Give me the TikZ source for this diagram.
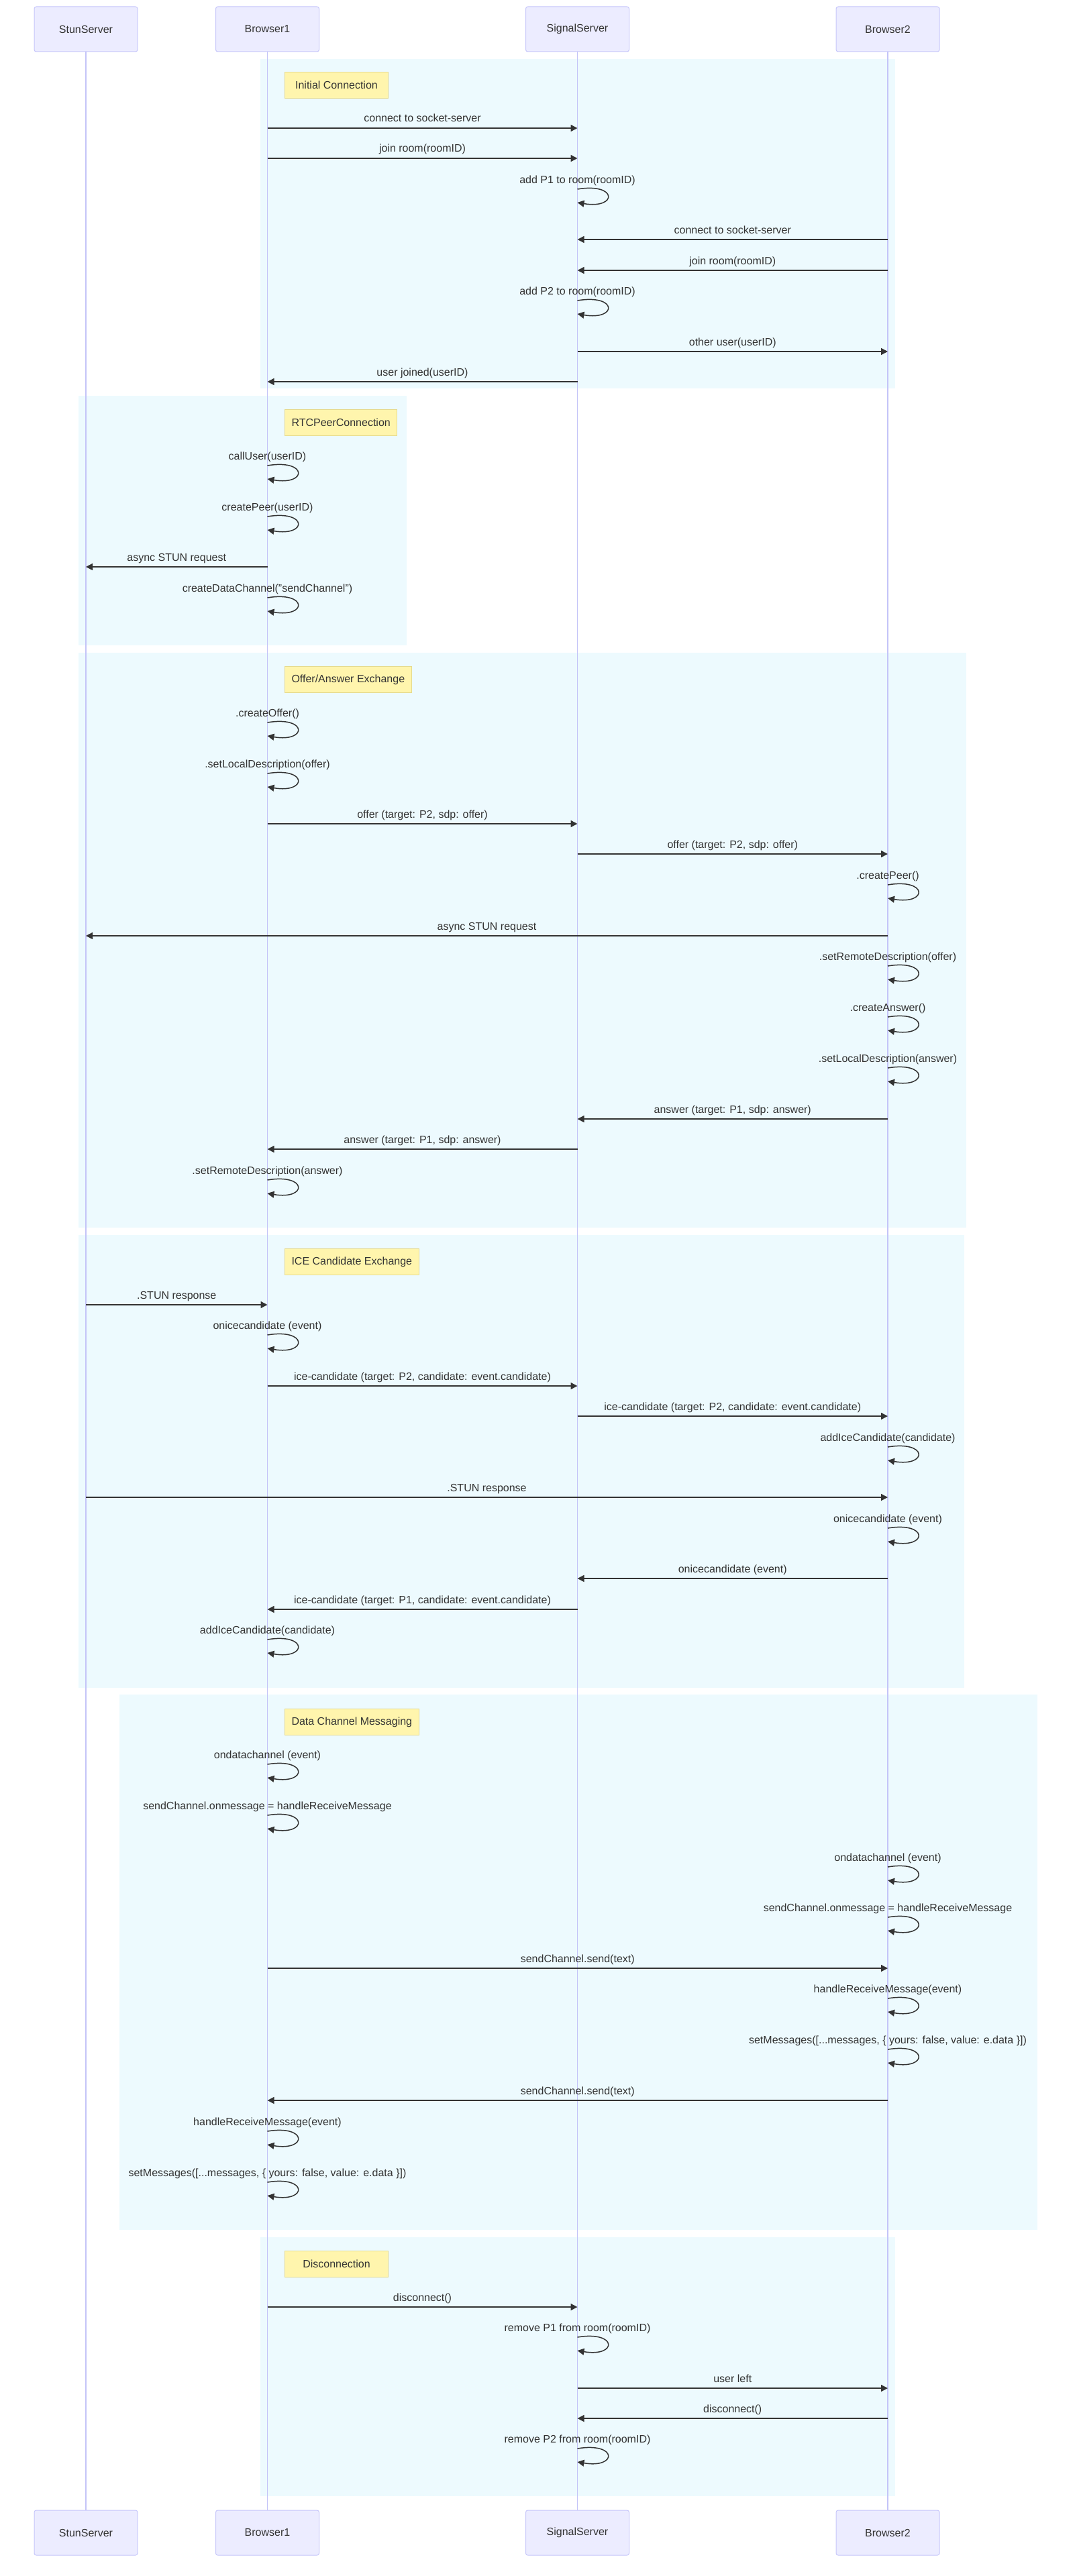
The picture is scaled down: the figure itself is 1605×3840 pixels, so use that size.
\documentclass[tikz,border=0pt]{standalone}
\usepackage{fontspec}
\setmainfont{Liberation Sans}
\usepackage{xcolor}
\usetikzlibrary{arrows.meta}
\definecolor{ink}{HTML}{333333}
\definecolor{actorfill}{HTML}{ECECFF}
\definecolor{actorline}{HTML}{C6C6FA}
\definecolor{lifeline}{HTML}{C4C4F8}
\definecolor{groupfill}{HTML}{EDFAFE}
\definecolor{notefill}{HTML}{FFF5AD}
\definecolor{noteline}{HTML}{E6DA8E}
\newcommand{\msg}[4]{\draw[signal] (#1 |- 0,#3) -- node[lbl]{#4} (#2 |- 0,#3);}
\newcommand{\selfmsg}[3]{\draw[selfloop] (#1 |- 0,#2) node[lbl]{#3} .. controls +(60,-10) and +(60,10) .. (#1 |- 0,#2+20);}

\begin{document}
\begin{tikzpicture}[x=1pt, y=-1pt, font=\fontsize{16}{19}\selectfont, text=ink,
  actor/.style={draw=actorline, fill=actorfill, line width=1pt, rounded corners=3pt, minimum width=154pt, minimum height=67pt},
  life/.style={draw=lifeline, line width=1.5pt},
  grp/.style={fill=groupfill},
  note/.style={draw=noteline, fill=notefill, line width=1pt, anchor=north west, minimum width=154pt, minimum height=39pt, inner xsep=10pt, inner ysep=0pt},
  signal/.style={draw=ink, line width=1.6pt, -{Triangle[length=10pt,width=10pt]}},
  selfloop/.style={draw=ink, line width=1.5pt, -{Triangle[length=10pt,width=10pt]}},
  lbl/.style={anchor=base, yshift=9pt, inner sep=0pt}]
  \useasboundingbox (0,0) rectangle (1605,3840);
  % group backgrounds
  \foreach \a/\b/\c/\d in {388/88/1334/579, 117/590/606/962, 117/973/1440/1830,
    117/1841/1437/2516, 178/2526/1546/3324, 388/3335/1334/3721}
    \fill[grp] (\a,\b) rectangle (\c,\d);
  % participants
  \foreach \nm/\x/\t in {stun/128/StunServer, bra/398.5/Browser1, sig/860.5/SignalServer, brb/1323/Browser2} {
    \node[actor] (\nm) at (\x,43.5) {\t};
    \node[actor] (\nm-end) at (\x,3775.5) {\t};
    \draw[life] (\nm) -- (\nm-end);
  }
  % initial connection
  \node[note] (n-init) at (424,107) {Initial Connection};
  \msg{bra}{sig}{191}{connect to socket-server}
  \msg{bra}{sig}{236}{join room(roomID)}
  \selfmsg{sig}{282}{add P1 to room(roomID)}
  \msg{brb}{sig}{357}{connect to socket-server}
  \msg{brb}{sig}{403}{join room(roomID)}
  \selfmsg{sig}{448}{add P2 to room(roomID)}
  \msg{sig}{brb}{524}{other user(userID)}
  \msg{sig}{bra}{569}{user joined(userID)}
  % peer connection
  \node[note] (n-rtc) at (424,610) {RTCPeerConnection};
  \selfmsg{bra}{694}{callUser(userID)}
  \selfmsg{bra}{770}{createPeer(userID)}
  \msg{bra}{stun}{845}{async STUN request}
  \selfmsg{bra}{891}{createDataChannel("sendChannel")}
  % offer / answer
  \node[note] (n-offer) at (424,993) {Offer/Answer Exchange};
  \selfmsg{bra}{1077}{.createOffer()}
  \selfmsg{bra}{1153}{.setLocalDescription(offer)}
  \msg{bra}{sig}{1228}{offer (target: P2, sdp: offer)}
  \msg{sig}{brb}{1273}{offer (target: P2, sdp: offer)}
  \selfmsg{brb}{1319}{.createPeer()}
  \msg{brb}{stun}{1395}{async STUN request}
  \selfmsg{brb}{1440}{.setRemoteDescription(offer)}
  \selfmsg{brb}{1516}{.createAnswer()}
  \selfmsg{brb}{1592}{.setLocalDescription(answer)}
  \msg{brb}{sig}{1668}{answer (target: P1, sdp: answer)}
  \msg{sig}{bra}{1713}{answer (target: P1, sdp: answer)}
  \selfmsg{bra}{1759}{.setRemoteDescription(answer)}
  % ice
  \node[note] (n-ice) at (424,1861) {ICE Candidate Exchange};
  \msg{stun}{bra}{1945}{.STUN response}
  \selfmsg{bra}{1990}{onicecandidate (event)}
  \msg{bra}{sig}{2066}{ice-candidate (target: P2, candidate: event.candidate)}
  \msg{sig}{brb}{2111}{ice-candidate (target: P2, candidate: event.candidate)}
  \selfmsg{brb}{2157}{addIceCandidate(candidate)}
  \msg{stun}{brb}{2232}{.STUN response}
  \selfmsg{brb}{2278}{onicecandidate (event)}
  \msg{brb}{sig}{2353}{onicecandidate (event)}
  \msg{sig}{bra}{2399}{ice-candidate (target: P1, candidate: event.candidate)}
  \selfmsg{bra}{2444}{addIceCandidate(candidate)}
  % data channel
  \node[note] (n-data) at (424,2547) {Data Channel Messaging};
  \selfmsg{bra}{2630}{ondatachannel (event)}
  \selfmsg{bra}{2706}{sendChannel.onmessage = handleReceiveMessage}
  \selfmsg{brb}{2783}{ondatachannel (event)}
  \selfmsg{brb}{2858}{sendChannel.onmessage = handleReceiveMessage}
  \msg{bra}{brb}{2934}{sendChannel.send(text)}
  \selfmsg{brb}{2979}{handleReceiveMessage(event)}
  \selfmsg{brb}{3055}{setMessages([...messages, \{ yours: false, value: e.data \}])}
  \msg{brb}{bra}{3131}{sendChannel.send(text)}
  \selfmsg{bra}{3177}{handleReceiveMessage(event)}
  \selfmsg{bra}{3253}{setMessages([...messages, \{ yours: false, value: e.data \}])}
  % disconnect
  \node[note] (n-bye) at (424,3355) {Disconnection};
  \msg{bra}{sig}{3439}{disconnect()}
  \selfmsg{sig}{3484}{remove P1 from room(roomID)}
  \msg{sig}{brb}{3560}{user left}
  \msg{brb}{sig}{3605}{disconnect()}
  \selfmsg{sig}{3650}{remove P2 from room(roomID)}
\end{tikzpicture}
\end{document}
